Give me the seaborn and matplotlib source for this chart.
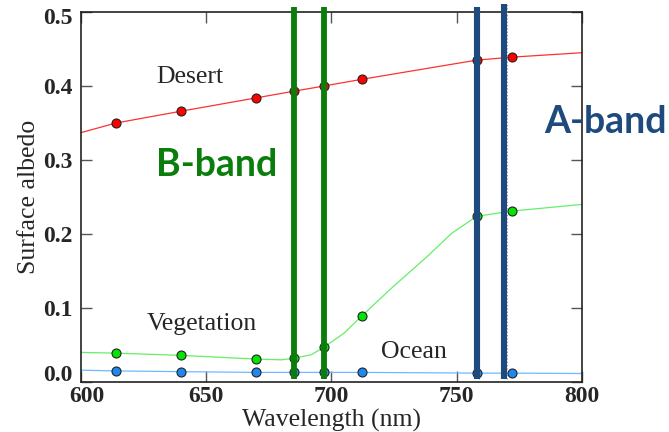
import matplotlib
matplotlib.use("Agg")
import matplotlib.pyplot as plt
import matplotlib.transforms as mtransforms
import seaborn as sns

# ---- data ----
wl_points = [614, 640, 670, 685, 697, 712, 758, 772]
desert_pts = [0.350, 0.366, 0.384, 0.393, 0.400, 0.409, 0.435, 0.439]
veg_pts = [0.039, 0.036, 0.031, 0.032, 0.047, 0.089, 0.224, 0.231]
ocean_pts = [0.015, 0.014, 0.013, 0.013, 0.013, 0.013, 0.012, 0.012]

desert_line_x = [600, 614, 640, 670, 685, 697, 712, 758, 772, 800]
desert_line_y = [0.337, 0.350, 0.366, 0.384, 0.393, 0.400, 0.409, 0.435, 0.439, 0.445]
veg_line_x = [600, 614, 640, 670, 680, 685, 692, 697, 705, 712, 724, 738, 748, 758, 772, 800]
veg_line_y = [0.040, 0.039, 0.036, 0.031, 0.030, 0.032, 0.037, 0.047, 0.066, 0.089, 0.127, 0.169, 0.201, 0.224, 0.231, 0.240]
ocean_line_x = [600, 614, 640, 670, 685, 697, 712, 758, 772, 800]
ocean_line_y = [0.016, 0.015, 0.014, 0.013, 0.013, 0.013, 0.013, 0.012, 0.012, 0.0115]

b_band = [685, 697]
a_band = [758, 769]

x_ticks = [600, 650, 700, 750, 800]
y_ticks = [0.0, 0.1, 0.2, 0.3, 0.4, 0.5]

sns.set_theme(style="ticks")
plt.rcParams['font.family'] = ['Liberation Serif', 'DejaVu Serif']

fig = plt.figure(figsize=(6.69, 4.32), dpi=100)
ax = fig.add_axes([0.121, 0.1157, 0.749, 0.8565])

series = [
    (desert_line_x, desert_line_y, desert_pts, "#ff3030", "#ff0000"),
    (veg_line_x, veg_line_y, veg_pts, "#66ee66", "#00e600"),
    (ocean_line_x, ocean_line_y, ocean_pts, "#70b8ff", "#1e88f0"),
]
for lx, ly, pts, lc, mc in series:
    sns.lineplot(x=lx, y=ly, ax=ax, color=lc, linewidth=0.9, zorder=2)
    sns.scatterplot(x=wl_points, y=pts, ax=ax, color=mc, s=42,
                    edgecolor="#222222", linewidth=0.8, zorder=3)

# band bars
for xb in b_band:
    ax.vlines(xb, 0.004, 0.507, colors="#0a7d0a", linewidth=4.2, zorder=5, clip_on=False)
for i, xb in enumerate(a_band):
    top = 0.507 if i == 0 else 0.511
    ax.vlines(xb + 1.0, 0.004, top, colors="#999999", linewidth=0.8,
              linestyles=(0, (1, 2)), zorder=4, clip_on=False)
    ax.vlines(xb, 0.004, top, colors="#1f4a7e", linewidth=4.4, zorder=5, clip_on=False)

ax.set_xlim(600, 800)
ax.set_ylim(0, 0.5)
ax.set_xticks(x_ticks)
ax.set_yticks(y_ticks)
ax.set_xticklabels([str(v) for v in x_ticks], fontsize=17, fontweight="bold")
ax.set_yticklabels([f"{v:.1f}" for v in y_ticks], fontsize=17, fontweight="bold")
ax.tick_params(direction="in", length=8, width=1, color="#555555",
               top=True, right=True)
ax.tick_params(axis="x", pad=3)
ax.tick_params(axis="y", pad=6)
for s in ax.spines.values():
    s.set_visible(True)
    s.set_color("#222222")
    s.set_linewidth(1.2)

# small nudges of the corner tick labels, as in the reference
xl = ax.get_xticklabels()
xl[0].set_transform(xl[0].get_transform() + mtransforms.ScaledTranslation(6/100, 0, fig.dpi_scale_trans))
yl = ax.get_yticklabels()
yl[0].set_transform(yl[0].get_transform() + mtransforms.ScaledTranslation(0, 9/100, fig.dpi_scale_trans))
yl[-1].set_transform(yl[-1].get_transform() + mtransforms.ScaledTranslation(0, -4/100, fig.dpi_scale_trans))

ax.set_xlabel("Wavelength (nm)", fontsize=18.5, labelpad=1)
ax.set_ylabel("Surface albedo", fontsize=18.5, labelpad=2)

ax.text(643.5, 0.412, "Desert", fontsize=18.5, ha="center", va="center")
ax.text(648.3, 0.079, "Vegetation", fontsize=18.5, ha="center", va="center")
ax.text(733, 0.040, "Ocean", fontsize=18.5, ha="center", va="center")
ax.text(654, 0.293, "B-band", fontsize=27, fontweight="bold", color="#0a7d0a",
        ha="center", va="center", family=["Lato", "DejaVu Sans"])
ax.text(809.5, 0.351, "A-band", fontsize=27, fontweight="bold", color="#1f4a7e",
        ha="center", va="center", family=["Lato", "DejaVu Sans"], clip_on=False)

fig.savefig("out.png", dpi=100)
